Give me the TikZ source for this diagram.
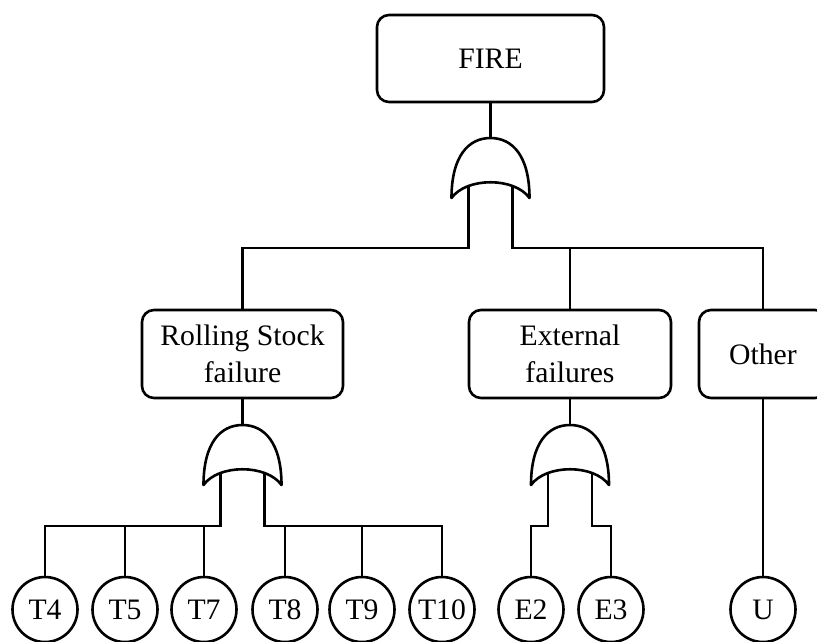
\documentclass[tikz,border=0pt]{standalone}
\usepackage{fontspec}
\setmainfont{Liberation Serif}
% OR gate: named top coordinate plus two leg coordinates
\newcommand\orgate[3]{%
  \coordinate (#1) at (#2,#3);
  \coordinate (#1L) at ({#2-22},{#3+40});
  \coordinate (#1R) at ({#2+22},{#3+40});
}
% OR gate body, drawn over the upper ends of its legs
\newcommand\orgateshape[1]{%
  \begin{scope}[shift={(#1)}]
    \draw[gateshape] (0,0) .. controls (22,0) and (39,18) .. (39,60)
      .. controls (24,39) and (-24,39) .. (-39,60)
      .. controls (-39,18) and (-22,0) .. (0,0) -- cycle;
  \end{scope}}
\begin{document}
\begin{tikzpicture}[x=1pt,y=-1pt,
  line width=2.6pt,
  event/.style={draw, rounded corners=12pt, align=center, inner sep=0pt,
    font=\fontsize{29.7}{36.6}\selectfont},
  basic/.style={draw, circle, minimum size=65pt, inner sep=0pt,
    font=\fontsize{29.7}{36}\selectfont},
  gateshape/.style={draw, fill=white, line join=round}]
\useasboundingbox (0,0) rectangle (817,641);
\clip (0,0) rectangle (817,641);

% events
\node[event, minimum width=227pt, minimum height=87pt] (fire) at (490.5,58.5) {FIRE};
\node[event, minimum width=201pt, minimum height=88pt] (rs) at (242.5,354) {Rolling Stock\\failure};
\node[event, minimum width=202pt, minimum height=88pt] (ext) at (570,354) {External\\failures};
\node[event, minimum width=128pt, minimum height=88pt] (oth) at (763,354) {Other};

% basic events
\node[basic] (t4)  at (45,609.5)  {T4};
\node[basic] (t5)  at (125,609.5) {T5};
\node[basic] (t7)  at (204,609.5) {T7};
\node[basic] (t8)  at (285,609.5) {T8};
\node[basic] (t9)  at (362,609.5) {T9};
\node[basic] (t10) at (442,609.5) {T10};
\node[basic] (e2)  at (531,609.5) {E2};
\node[basic] (e3)  at (611,609.5) {E3};
\node[basic] (u)   at (763,609.5) {U};

% gates
\orgate{g1}{490.5}{138}
\orgate{g2}{242.5}{425}
\orgate{g3}{570}{425}

% bus levels
\coordinate (bus1) at (0,248);
\coordinate (bus2) at (0,526);

% top level
\draw (fire.south) -- (g1);
\draw (g1L) -- (g1L |- bus1) -| (rs.north);
\draw (g1R) -- (g1R |- bus1) -| (oth.north);
\draw (ext.north) -- (ext.north |- bus1);

% rolling stock branch
\draw (rs.south) -- (g2);
\draw (g2L) -- (g2L |- bus2) -| (t4.north);
\draw (t5.north) -- (t5.north |- bus2);
\draw (t7.north) -- (t7.north |- bus2);
\draw (g2R) -- (g2R |- bus2) -| (t10.north);
\draw (t8.north) -- (t8.north |- bus2);
\draw (t9.north) -- (t9.north |- bus2);

% external branch
\draw (ext.south) -- (g3);
\draw (g3L) -- (g3L |- bus2) -| (e2.north);
\draw (g3R) -- (g3R |- bus2) -| (e3.north);

% other branch
\draw (oth.south) -- (u.north);

\orgateshape{g1}
\orgateshape{g2}
\orgateshape{g3}
\end{tikzpicture}
\end{document}
